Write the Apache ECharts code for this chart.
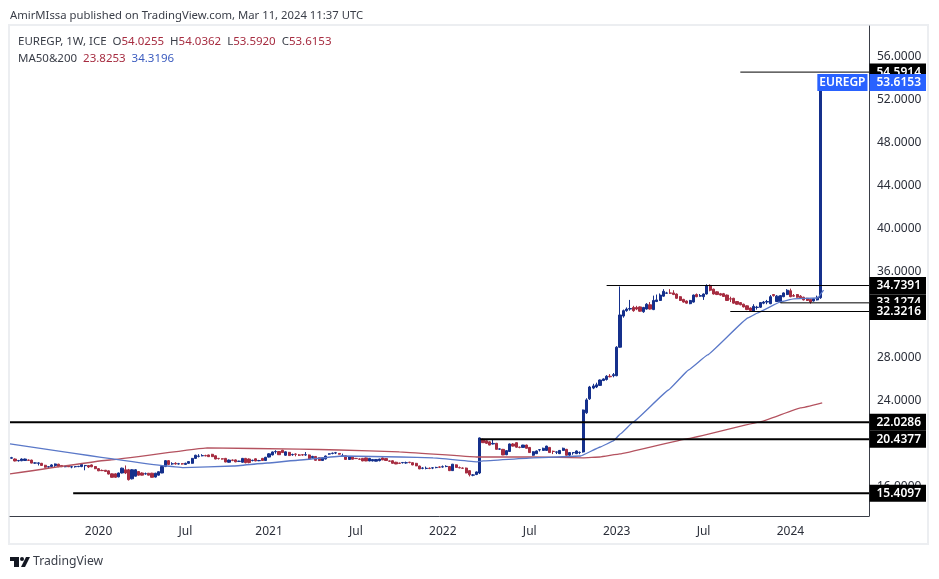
<!DOCTYPE html>
<html>
<head>
<meta charset="utf-8">
<style>html,body{margin:0;padding:0;background:#fff}#main{width:939px;height:579px}</style>
<script src="https://cdn.jsdelivr.net/npm/echarts@6/dist/echarts.min.js"></script>
</head>
<body>
<div id="main"></div>
<script>
// weekly candles, [open, close, low, high]
var candles2019 = [[18.68,18.72,18.62,18.8],[18.6,18.42,18.38,18.66],[18.44,18.46,18.36,18.52],[18.44,18.6,18.4,18.66],[18.46,18.6,18.42,18.64],[18.5,18.48,18.42,18.56],[18.5,18.22,18.2,18.54],[18.22,18.24,18.16,18.3],[18.2,18.24,18.0,18.3],[18.2,18.0,17.98,18.24],[18.02,17.84,17.8,18.06],[17.86,17.88,17.76,17.94],[17.9,18.05,17.88,18.12],[18.0,18.14,17.86,18.18],[18.12,17.9,17.84,18.16],[18.0,17.88,17.86,18.04],[17.88,17.9,17.84,17.96],[17.98,17.88,17.86,18.0],[17.86,17.88,17.74,17.94],[17.88,17.9,17.8,17.92],[17.9,17.92,17.84,17.96],[17.9,18.1,17.84,18.14],[17.98,18.0,17.55,18.05],[18.0,17.86,17.76,18.04],[18.05,17.88,17.84,18.1]];
var candles2020 = [[17.9,17.7,17.66,17.94],[17.7,17.5,17.48,17.76],[17.54,17.52,17.48,17.62],[17.56,17.45,17.42,17.58],[17.5,17.2,17.16,17.54],[17.22,16.9,16.88,17.26],[17.22,16.9,16.86,17.26],[16.94,17.3,16.9,17.34],[17.3,17.75,17.26,17.8],[17.6,17.3,17.2,18.0],[17.6,16.68,16.6,17.68],[16.76,17.6,16.7,17.66],[17.0,17.6,16.98,17.66],[17.44,17.1,17.06,17.48],[17.3,17.1,17.08,17.36],[17.22,17.24,17.14,17.34],[17.28,17.1,17.08,17.3],[17.28,16.9,16.88,17.32],[16.92,17.28,16.88,17.32],[17.1,17.42,17.06,17.44],[17.3,17.9,17.28,17.94],[17.9,18.45,17.85,18.5],
 [18.45,18.1,18.05,18.5],[18.14,18.16,18.06,18.3],[18.2,18.14,18.08,18.3],[18.14,18.16,18.08,18.24],[18.16,18.14,18.08,18.22],[18.1,18.2,18.06,18.26],[18.2,18.36,18.16,18.4],[18.2,18.66,18.16,18.7],[18.66,18.95,18.6,19.0],[18.85,18.87,18.75,19.05],[18.9,18.92,18.85,19.05],[18.92,18.9,18.85,19.0],[18.98,18.82,18.8,19.0],[19.04,18.82,18.8,19.08],[18.9,18.6,18.58,18.94],[18.66,18.64,18.55,18.7],[18.62,18.6,18.55,18.66],[18.66,18.32,18.3,18.7],[18.3,18.5,18.26,18.56],[18.5,18.48,18.4,18.56],[18.52,18.34,18.3,18.56],[18.38,18.4,18.32,18.44],[18.3,18.66,18.26,18.7],[18.66,18.26,18.2,18.7],[18.6,18.28,18.2,18.66],[18.46,18.48,18.38,18.54],[18.62,18.42,18.4,18.66],[18.44,18.46,18.4,18.52],[18.66,18.46,18.44,18.7]];
var candles2021 = [[18.46,18.76,18.44,18.8],[18.78,19.08,18.74,19.14],[18.98,19.26,18.94,19.3],[19.28,19.3,19.1,19.42],[19.3,19.0,18.98,19.34],[19.42,19.2,19.18,19.46],[18.95,19.27,18.9,19.3],[19.22,18.92,18.9,19.26],[19.0,19.02,18.9,19.1],[19.06,19.04,18.85,19.12],[18.98,18.96,18.88,19.06],[19.0,18.98,18.9,19.06],[18.98,19.0,18.9,19.25],[18.98,18.6,18.56,19.02],[18.74,18.84,18.7,18.9],[18.84,18.48,18.44,18.88],[18.72,18.46,18.44,18.76],[18.46,18.72,18.42,18.76],[18.6,18.88,18.56,18.92],
 [19.06,19.08,19.0,19.12],[19.12,19.14,19.04,19.2],[19.16,19.18,19.06,19.26],[19.12,19.05,19.02,19.14],[18.85,18.9,18.82,19.1],[18.9,18.56,18.54,18.94],[18.56,18.8,18.52,18.84],[18.82,18.58,18.56,18.86],[18.66,18.64,18.6,18.7],[18.6,18.58,18.52,18.66],[18.66,18.42,18.4,18.7],[18.7,18.42,18.4,18.74],[18.42,18.66,18.4,18.7],[18.42,18.56,18.38,18.58],[18.4,18.56,18.38,18.6],[18.45,18.6,18.38,18.62],[18.7,18.52,18.5,18.74],[18.64,18.46,18.44,18.68],[18.42,18.4,18.36,18.46],[18.44,18.2,18.18,18.48],[18.3,18.14,18.12,18.34],[18.22,18.2,18.14,18.26],[18.26,18.28,18.18,18.32],[18.24,18.26,18.16,18.36],[18.3,18.28,18.2,18.34],[18.26,18.05,18.02,18.3],[18.2,17.96,17.94,18.24],[17.95,17.68,17.66,17.98],[17.74,17.76,17.65,17.84],[17.72,17.74,17.64,17.9],[17.74,17.72,17.66,17.82],[17.76,17.78,17.66,17.84],[17.8,17.82,17.74,17.88],[17.86,17.84,17.76,17.92],[17.86,17.88,17.8,18.0],[17.9,17.92,17.84,18.02]];
var candles2022 = [[17.9,17.52,17.48,17.94],[17.52,18.12,17.5,18.14],[18.06,17.82,17.8,18.1],[17.8,17.78,17.74,17.9],[17.76,17.74,17.7,17.82],[17.76,17.3,17.28,17.8],[17.52,17.14,16.98,17.56],[17.1,17.12,17.0,17.2],[17.16,17.4,17.1,17.44],[17.3,20.56,17.2,20.6],
 [20.43,20.12,20.1,20.5],[20.3,20.06,20.0,20.34],[20.2,19.9,19.88,20.24],[20.0,20.05,19.95,20.4],[20.06,19.5,19.48,20.1],[19.52,19.54,19.45,19.6],[19.5,18.98,18.96,19.54],[19.0,19.38,18.96,19.42],[19.3,20.0,19.28,20.04],[20.0,19.8,19.76,20.08],[20.12,19.7,19.66,20.16],[19.7,19.68,19.6,19.76],[19.68,19.9,19.66,19.92],[19.9,19.6,19.58,19.94],[19.68,19.2,19.18,19.72],[18.95,19.28,18.9,19.32],[19.1,19.35,19.06,19.4],[19.45,19.47,19.3,19.52],[19.4,19.6,19.38,19.66],[19.4,19.8,19.36,19.84],[19.68,19.2,19.18,19.72],[19.32,19.3,19.06,19.38],[19.24,19.26,19.06,19.3],[19.1,19.4,19.06,19.44],[19.4,19.6,19.36,19.66],[19.5,18.95,18.92,19.54],[18.96,19.2,18.78,19.24],[19.18,19.2,19.0,19.22],[19.1,19.35,19.06,19.4],[19.2,19.22,19.05,19.3],
 [19.26,23.16,19.2,23.2],[22.9,24.1,22.8,24.25],[24.2,25.3,24.1,25.4],[25.2,25.4,25.1,25.6],[25.3,25.5,25.2,25.7],[25.45,25.95,25.4,26.0],[25.9,26.05,25.85,26.1],[26.0,26.3,25.9,26.4],[26.3,26.25,26.2,26.5],[26.35,26.45,26.2,26.6],[26.35,29.0,26.3,29.1]];
var candles2023 = [[29.0,32.0,28.95,34.65],[31.9,32.4,31.75,32.5],[32.4,32.55,32.3,32.7],[32.55,32.6,32.4,33.4],[32.7,32.4,32.3,32.85],[32.7,32.55,32.45,32.85],[32.75,32.35,32.3,32.8],[32.3,32.7,32.2,32.75],[32.55,33.0,32.5,33.1],[32.95,32.55,32.5,33.2],[32.5,33.35,32.45,33.8],[33.25,33.4,33.2,33.9],[33.35,33.85,33.3,34.0],[33.75,34.2,33.7,34.4],[34.02,34.05,33.95,34.15],[34.05,34.02,33.95,34.4],[34.05,33.9,33.85,34.3],[33.95,33.55,33.5,34.0],[33.7,33.35,33.3,33.75],[33.45,33.2,33.15,33.5],[33.3,33.1,33.05,33.35],[33.05,33.35,33.0,33.4],[33.2,33.85,33.15,33.9],[33.9,33.7,33.65,34.0],[33.75,33.8,33.7,33.95],[33.7,33.95,33.4,34.0],[33.95,34.7,33.9,34.85],[34.75,34.3,34.2,34.85],[34.4,33.95,33.9,34.45],[34.15,33.9,33.85,34.2],[33.98,33.85,33.8,34.05],[33.98,33.72,33.7,34.05],[33.85,33.35,33.3,33.9],[33.5,33.48,33.2,33.7],[33.55,33.1,33.05,33.6],[33.25,33.0,32.95,33.3],[33.15,32.95,32.9,33.2],[33.0,32.75,32.7,33.05],[32.85,32.5,32.45,32.9],[32.65,32.42,32.35,32.7],[32.35,32.8,32.3,33.0],[32.7,32.72,32.5,32.85],[32.72,33.15,32.65,33.2],[33.1,33.2,33.0,33.3],[33.2,33.25,33.0,33.4],[33.05,33.7,33.0,33.85],[33.9,33.8,33.7,33.95],[33.25,33.75,33.2,33.85],[33.2,33.8,33.15,33.85],[33.7,34.05,33.65,34.1]];
var candles2024 = [[33.9,34.3,33.85,34.4],[34.25,33.7,33.65,34.45],[33.8,33.75,33.7,33.95],[33.9,33.65,33.6,33.95],[33.75,33.6,33.55,33.85],[33.65,33.4,33.35,33.7],[33.55,33.35,33.3,33.6],[33.45,33.2,33.05,33.5],[33.3,33.5,33.25,33.55],[33.4,33.65,33.35,33.8],[33.6,53.6153,33.5,54.0362]];

// moving averages, breakpoints (bar position, value)
var maBlueBars = [-0.5,46.5,51.3,66.3,76.5,86.3,99.2,116.3,126.1,139.3,141.1,156.1,170.2,176.1,180,182.1,186,196.5,202.5,208.2,220.2,223.2,230,233.9,241.1,242.9];
var maBlueValues = [20.0,17.95,17.8,17.95,18.23,18.51,18.88,18.79,18.7,18.33,18.42,18.7,18.88,19.72,20.28,20.93,22.05,25.02,26.88,28.28,31.72,32.19,33.21,33.49,33.58,34.32];
var maRedBars = [-0.5,29.4,58.5,86,98,116,139,156,171,176,182,202,224,236,242.5];
var maRedValues = [17.21,18.51,19.63,19.53,19.44,19.26,18.79,18.79,18.7,18.79,19.07,20.47,22.05,23.35,23.83];

// drawn horizontal levels
var levelValues = [33.1274,54.5914,34.7391,32.3216,22.0286,20.4377,15.4097];
var levelStarts = [230,218,178,215,-0.5,140.2,18.4];
var levelWidths = [1,1,1,1,2,2,2];

var tickBars = [26,52,77,103,129,155,181,207,233];
var tickLabels = ['2020','Jul','2021','Jul','2022','Jul','2023','Jul','2024'];
var priceTicks = [16,20,24,28,32,36,40,44,48,52,56];

var barCount = 257;
var lastPrice = 53.6153;
var UP = '#15308c', DOWN = '#a62c40', FONT = '"Noto Sans", sans-serif';

var candles = candles2019.concat(candles2020, candles2021, candles2022, candles2023, candles2024);
var categories = [];
for (var i = 0; i < barCount; i++) categories.push(String(i));

function zip(a, b) { return a.map(function (v, k) { return [v, b[k]]; }); }

var series = [
    {type: 'candlestick', data: candles, barWidth: '80%', z: 3,
     itemStyle: {color: UP, color0: DOWN, borderColor: UP, borderColor0: DOWN, borderWidth: 1}},
    {type: 'line', xAxisIndex: 1, data: zip(maRedBars, maRedValues), showSymbol: false, z: 4,
     smooth: 0.06, smoothMonotone: 'x', lineStyle: {color: '#b4525f', width: 1.3}},
    {type: 'line', xAxisIndex: 1, data: zip(maBlueBars, maBlueValues), showSymbol: false, z: 4,
     smooth: 0.06, smoothMonotone: 'x', lineStyle: {color: '#5a78c8', width: 1.3}}
];

levelValues.forEach(function (v, k) {
    series.push({type: 'line', xAxisIndex: 1, showSymbol: false, z: 5,
        data: [[levelStarts[k], v], [barCount - 0.5, v]],
        lineStyle: {color: '#000', width: levelWidths[k]}});
    series.push(tag(v.toFixed(4), v, '#000', 'right', 10 + k));
});
series.push(tag(lastPrice.toFixed(4), lastPrice, '#2962ff', 'right', 20));
series.push(tag('EUREGP', lastPrice, '#2962ff', 'left', 20));

function tag(text, value, bg, side, z) {
    return {type: 'scatter', xAxisIndex: 1, symbolSize: 1, z: z, silent: true,
        itemStyle: {color: 'rgba(0,0,0,0)', opacity: 1},
        data: [[barCount - 0.5, value]],
        label: {show: true, position: side, distance: side == 'right' ? 0 : 1, formatter: text,
            backgroundColor: bg, color: '#fff', fontFamily: FONT, fontSize: 12, fontWeight: 600,
            padding: side == 'right' ? [2, 5, 2, 7] : [2, 2, 2, 2], lineHeight: 13}};
}

var chart = echarts.init(document.getElementById('main'));
chart.setOption({
    animation: false,
    backgroundColor: '#fff',
    grid: {left: 10, right: 70, top: 26, bottom: 63},
    title: [
        {text: 'AmirMIssa published on TradingView.com, Mar 11, 2024 11:37 UTC', left: 5, top: 5,
         textStyle: {fontFamily: FONT, fontSize: 11.3, fontWeight: 'normal', color: '#3a3e48'}},
        {text: 'EUREGP, 1W, ICE  {l|O}{r|54.0255}  {l|H}{r|54.0362}  {l|L}{r|53.5920}  {l|C}{r|53.6153}', left: 13, top: 31,
         textStyle: {fontFamily: FONT, fontSize: 11.5, fontWeight: 'normal', color: '#3a3e48',
            rich: {l: {fontFamily: FONT, fontSize: 11.5, color: '#3a3e48'}, r: {fontFamily: FONT, fontSize: 11.5, color: '#a62c40'}}}},
        {text: 'MA50&200  {r|23.8253}  {b|34.3196}', left: 13, top: 48,
         textStyle: {fontFamily: FONT, fontSize: 11.5, fontWeight: 'normal', color: '#3a3e48',
            rich: {r: {fontFamily: FONT, fontSize: 11.5, color: '#a62c40'}, b: {fontFamily: FONT, fontSize: 11.5, color: '#3a5bbf'}}}},
        {text: 'TradingView', left: 28, top: 551,
         textStyle: {fontFamily: FONT, fontSize: 12.2, fontWeight: 'normal', color: '#3a3e48'}}
    ],
    graphic: [
        {type: 'rect', z: -1, shape: {x: 9, y: 25, width: 919, height: 519}, style: {fill: 'none', stroke: '#eceef1', lineWidth: 2}},
        {type: 'polygon', shape: {points: [[10, 557], [19, 557], [19, 567], [14, 567], [14, 561], [10, 561]]}, style: {fill: '#131722'}},
        {type: 'circle', shape: {cx: 22, cy: 559, r: 2}, style: {fill: '#131722'}},
        {type: 'polygon', shape: {points: [[21, 567], [26, 557], [30, 557], [25, 567]]}, style: {fill: '#131722'}}
    ],
    xAxis: [
        {type: 'category', data: categories, boundaryGap: true,
         axisLine: {show: true, onZero: false, lineStyle: {color: '#3a3e48', width: 1}},
         axisTick: {show: false}, splitLine: {show: false},
         axisLabel: {margin: 10, fontFamily: FONT, fontSize: 12, color: '#2a2e39', hideOverlap: false,
            interval: function (idx) { return tickBars.indexOf(idx) >= 0; },
            formatter: function (val, idx) { return tickLabels[tickBars.indexOf(idx)]; }}},
        {type: 'value', show: false, min: -0.5, max: barCount - 0.5, splitLine: {show: false}}
    ],
    yAxis: {type: 'value', position: 'right', min: 13.3, max: 58.88, scale: true,
        axisLine: {show: true, onZero: false, lineStyle: {color: '#3a3e48', width: 1}},
        axisTick: {show: false}, splitLine: {show: false},
        axisLabel: {customValues: priceTicks, margin: 8, fontFamily: FONT, fontSize: 12, color: '#2a2e39',
            formatter: function (v) { return v.toFixed(4); }}},
    series: series
});
</script>
</body>
</html>
